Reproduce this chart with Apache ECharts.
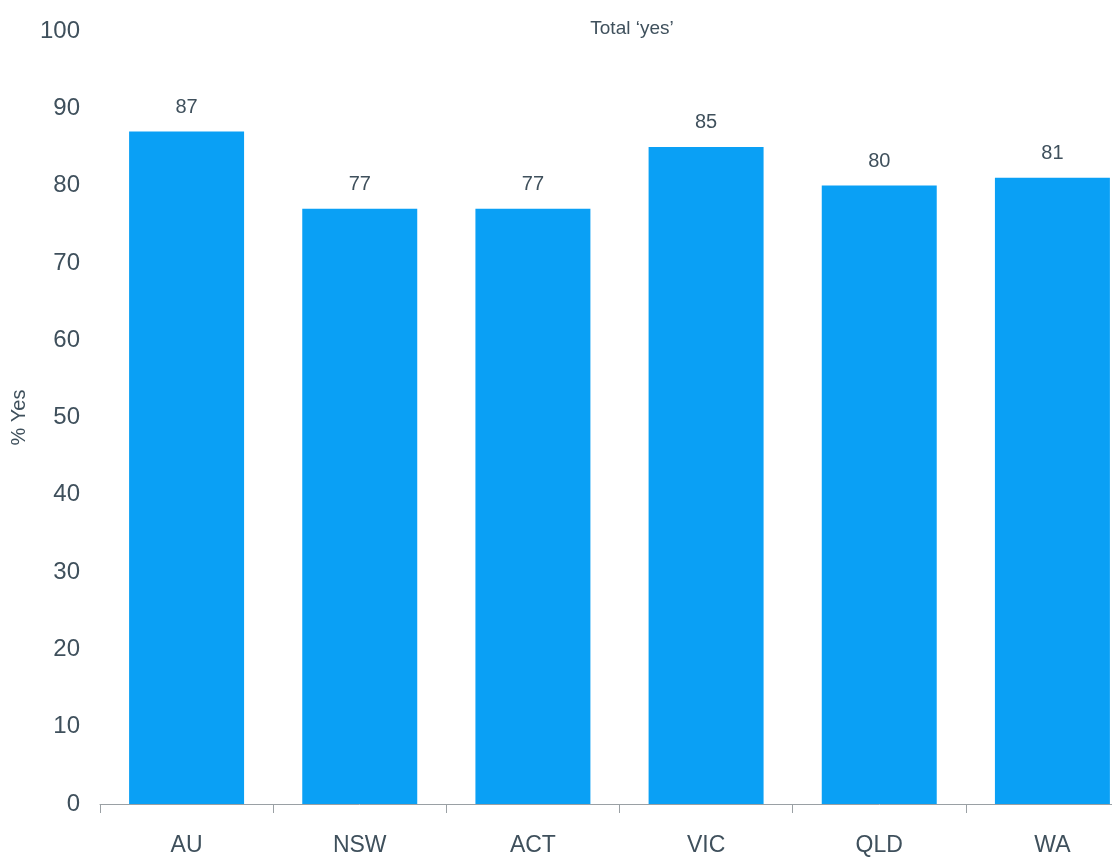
<!DOCTYPE html>
<html>
<head>
<meta charset="utf-8">
<script src="https://cdn.jsdelivr.net/npm/echarts@6/dist/echarts.min.js"></script>
<style>
html,body{margin:0;padding:0;background:#fff;overflow:hidden;width:1112px;height:863px;}
#chart{width:1139px;height:863px;}
</style>
</head>
<body>
<div id="chart"></div>
<script>
const categories = ['AU', 'NSW', 'ACT', 'VIC', 'QLD', 'WA'];
const yesValues = [87, 77, 77, 85, 80, 81];
const yTicks = { min: 0, max: 100, interval: 10 };
const titleText = 'Total \u2018yes\u2019';
const yAxisName = '% Yes';

const FONT = '"Liberation Sans Narrow", "Liberation Sans", Arial, sans-serif';
const TXT = '#3f505c';

const chart = echarts.init(document.getElementById('chart'), null, { renderer: 'canvas' });
chart.setOption({
  backgroundColor: '#ffffff',
  animation: false,
  title: {
    text: titleText,
    left: 627,
    top: 14,
    textAlign: 'center',
    textStyle: { fontFamily: FONT, fontSize: 19, fontWeight: 'normal', color: TXT }
  },
  grid: { left: 100, right: 0, top: 31, bottom: 59, containLabel: false },
  xAxis: {
    type: 'category',
    data: categories,
    axisLine: { show: true, lineStyle: { color: '#9aa0a4', width: 1 } },
    axisTick: { show: true, alignWithLabel: false, length: 9, lineStyle: { color: '#9aa0a4' } },
    axisLabel: { fontFamily: FONT, fontSize: 23, color: TXT, margin: 30 },
    splitLine: { show: false }
  },
  yAxis: {
    type: 'value',
    min: yTicks.min,
    max: yTicks.max,
    interval: yTicks.interval,
    name: yAxisName,
    nameLocation: 'middle',
    nameRotate: 90,
    nameGap: 70,
    nameTextStyle: { fontFamily: 'Liberation Sans, Arial, sans-serif', fontSize: 20, color: TXT },
    axisLine: { show: false },
    axisTick: { show: false },
    splitLine: { show: false },
    axisLabel: { fontFamily: FONT, fontSize: 24, color: TXT, margin: 20 }
  },
  series: [{
    type: 'bar',
    data: yesValues,
    barCategoryGap: '33.6%',
    itemStyle: { color: '#0aa0f5' },
    label: {
      show: true,
      position: 'top',
      distance: 14,
      fontFamily: FONT,
      fontSize: 20,
      color: TXT
    }
  }]
});
</script>
</body>
</html>
